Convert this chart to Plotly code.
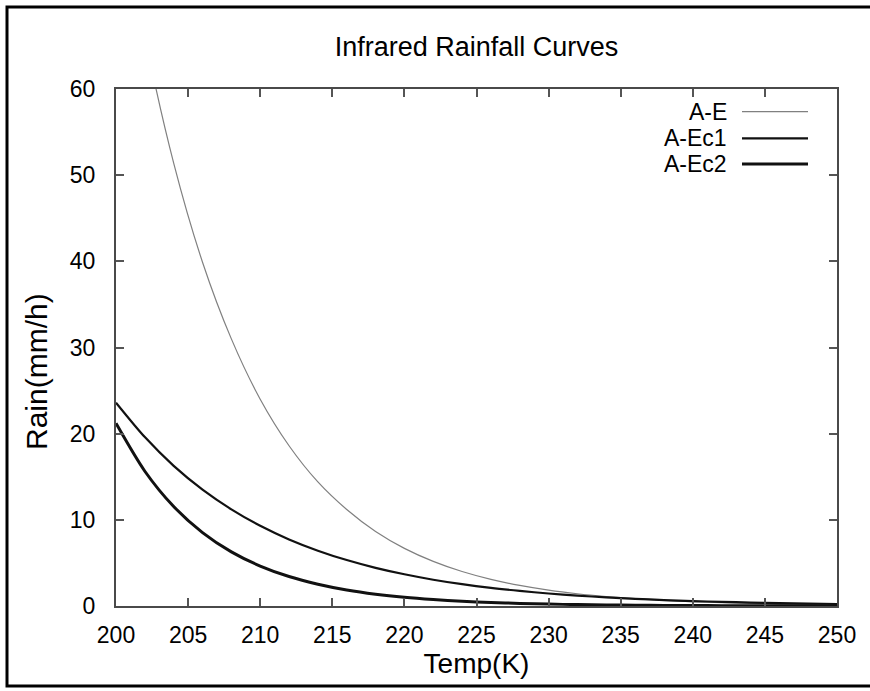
import plotly.graph_objects as go

# Temperature (K)
temp = [200, 202, 204, 206, 208, 210, 212, 214, 216, 218, 220, 222, 224,
        226, 228, 230, 232, 234, 236, 238, 240, 242, 244, 246, 248, 250]

# Rain (mm/h)
rain_ae = [85.2, 66.2, 51.4, 39.9, 31.0, 24.0, 18.6, 14.4, 11.2, 8.65, 6.69, 5.18, 4.00,
           3.09, 2.39, 1.84, 1.42, 1.10, 0.845, 0.651, 0.502, 0.386, 0.297, 0.229, 0.176, 0.135]
rain_ec1 = [23.6, 19.6, 16.27, 13.51, 11.22, 9.31, 7.73, 6.42, 5.33, 4.43, 3.68, 3.05, 2.53,
            2.10, 1.75, 1.45, 1.21, 1.00, 0.83, 0.69, 0.57, 0.48, 0.40, 0.33, 0.27, 0.23]
rain_ec2 = [21.2, 15.64, 11.54, 8.52, 6.28, 4.64, 3.42, 2.53, 1.86, 1.37, 1.01, 0.75, 0.55,
            0.41, 0.30, 0.22, 0.16, 0.12, 0.09, 0.07, 0.05, 0.04, 0.03, 0.02, 0.02, 0.01]

series_names = ["A-E", "A-Ec1", "A-Ec2"]
series_vals = [rain_ae, rain_ec1, rain_ec2]
series_colors = ["#808080", "#111111", "#111111"]
series_widths = [1.2, 2.2, 3]

FONT = "Liberation Sans, Arial, sans-serif"

fig = go.Figure()
for name, vals, col, w in zip(series_names, series_vals, series_colors, series_widths):
    fig.add_trace(go.Scatter(x=temp, y=vals, mode="lines", name=name,
                             line=dict(color=col, width=w, shape="spline", smoothing=0.8),
                             showlegend=False))

W, H = 870, 691
L, R, T, B = 116, 33, 89, 85
pw, ph = W - L - R, H - T - B

def px(xp):
    return (xp - L) / pw

def py(yp):
    return (H - B - yp) / ph

# custom gnuplot-style legend (text, then line sample)
leg_y = [111.7, 138.3, 164]
for name, col, w, yy in zip(series_names, series_colors, series_widths, leg_y):
    fig.add_annotation(x=px(729), y=py(yy), xref="paper", yref="paper",
                       text=name, showarrow=False, xanchor="right", yanchor="middle",
                       font=dict(family=FONT, size=23, color="black"))
    fig.add_shape(type="line", xref="paper", yref="paper",
                  x0=px(742), x1=px(808), y0=py(yy), y1=py(yy),
                  line=dict(color=col, width=w))

# y-axis label (gnuplot style, placed as text)
fig.add_annotation(x=px(36), y=py(372), xref="paper", yref="paper",
                   text="Rain(mm/h)", textangle=-90, showarrow=False,
                   xanchor="center", yanchor="middle",
                   font=dict(family=FONT, size=30, color="black"))

# outer frame
fig.add_shape(type="rect", xref="paper", yref="paper",
              x0=px(7), x1=px(880), y0=py(686), y1=py(7),
              line=dict(color="black", width=3), layer="below")

axis_common = dict(showgrid=False, zeroline=False, showline=True, linecolor="#4a4a4a",
                   linewidth=2, ticks="inside", ticklen=8, tickwidth=1.5, tickcolor="#555555",
                   mirror="allticks", tickfont=dict(family=FONT, size=23, color="black"))

fig.update_layout(
    width=W, height=H, autosize=False,
    margin=dict(l=L, r=R, t=T, b=B),
    paper_bgcolor="white", plot_bgcolor="white",
    title=dict(text="Infrared Rainfall Curves", x=(L + 0.5 * pw) / W, xanchor="center",
               y=1 - 47 / H, yanchor="middle",
               font=dict(family=FONT, size=27, color="black")),
    xaxis=dict(range=[200, 250], dtick=5, tick0=200, ticklabelstandoff=7,
               title=dict(text="Temp(K)", standoff=0, font=dict(family=FONT, size=28, color="black")),
               **axis_common),
    yaxis=dict(range=[0, 60], dtick=10, tick0=0, ticklabelstandoff=14,
               **axis_common),
)

fig.write_html("out.html")
